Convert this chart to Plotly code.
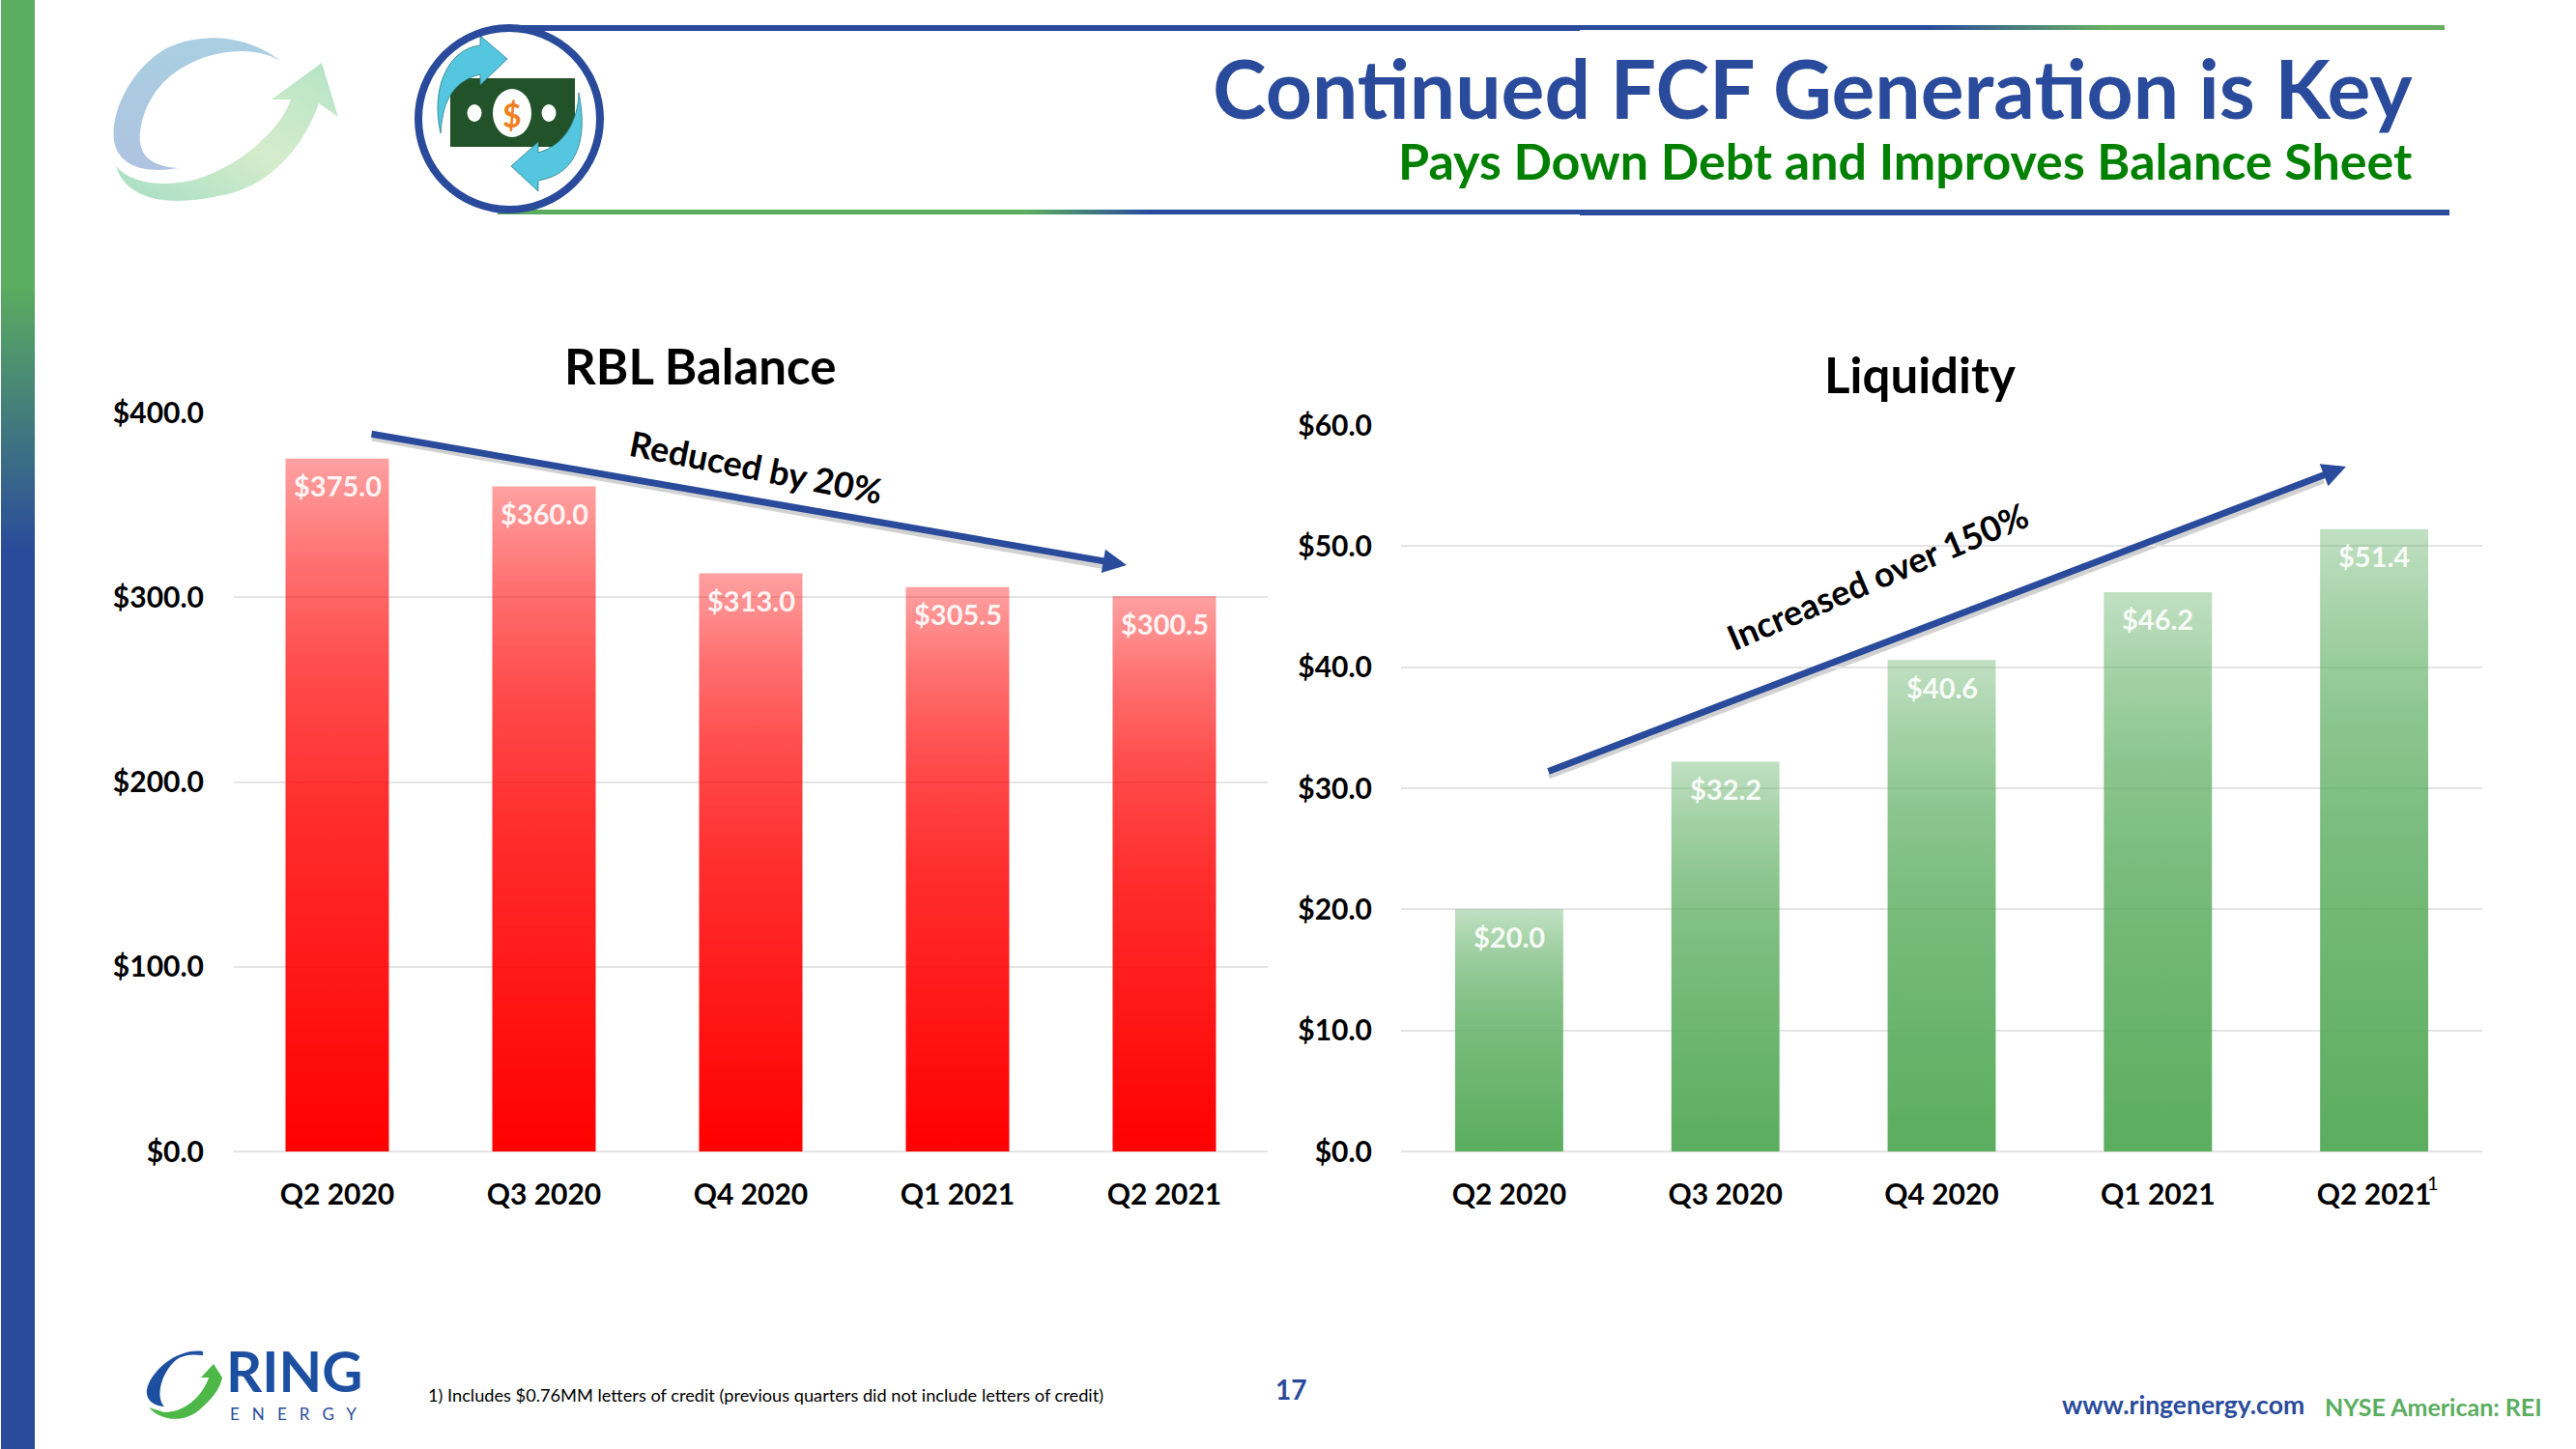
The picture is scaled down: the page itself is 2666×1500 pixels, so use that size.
import base64
import plotly.graph_objects as go

W, H = 2666, 1500
FONT = "Lato"
BLUE = "#2A4B9B"
GREEN = "#5BAD5F"

quarters_left = ["Q2 2020", "Q3 2020", "Q4 2020", "Q1 2021", "Q2 2021"]
rbl_balance = [375.0, 360.0, 313.0, 305.5, 300.5]
rbl_ticks = [0, 100, 200, 300, 400]

quarters_right = ["Q2 2020", "Q3 2020", "Q4 2020", "Q1 2021", "Q2 2021"]
liquidity = [20.0, 32.2, 40.6, 46.2, 51.4]
liquidity_ticks = [0, 10, 20, 30, 40, 50, 60]


def px(x):
    return x / W


def py(y):
    return 1 - y / H


# side bar, header rules and logo artwork, drawn once as a page backdrop
ART = f"""<svg xmlns="http://www.w3.org/2000/svg" width="{W}" height="{H}" viewBox="0 0 {W} {H}">
<defs>
<linearGradient id="side" x1="0" y1="0" x2="0" y2="{H}" gradientUnits="userSpaceOnUse">
<stop offset="{296/H}" stop-color="{GREEN}"/><stop offset="{570/H}" stop-color="{BLUE}"/></linearGradient>
<linearGradient id="top" x1="0" y1="0" x2="{W}" y2="0" gradientUnits="userSpaceOnUse">
<stop offset="{1995/W}" stop-color="{BLUE}"/><stop offset="{2182/W}" stop-color="#69AE63"/></linearGradient>
<linearGradient id="bot" x1="0" y1="0" x2="{W}" y2="0" gradientUnits="userSpaceOnUse">
<stop offset="{1064/W}" stop-color="{GREEN}"/><stop offset="{1188/W}" stop-color="{BLUE}"/></linearGradient>
<linearGradient id="cres" x1="0" y1="0" x2="0" y2="1">
<stop offset="0" stop-color="#A9CFE2"/><stop offset="1" stop-color="#AFC3E0"/></linearGradient>
<linearGradient id="swoosh" x1="0" y1="1" x2="1" y2="0">
<stop offset="0" stop-color="#A6DEC6"/><stop offset="0.5" stop-color="#D5ECCB"/><stop offset="1" stop-color="#B4E4C6"/></linearGradient>
</defs>
<rect x="1" y="0" width="35" height="{H}" fill="url(#side)"/>
<rect x="527" y="26" width="1108" height="6" fill="{BLUE}"/>
<rect x="1635" y="26" width="895" height="5" fill="url(#top)"/>
<rect x="515" y="217" width="1120" height="5" fill="url(#bot)"/>
<rect x="1635" y="217" width="900" height="6" fill="{BLUE}"/>
<path d="M290 63 C262 40 215 30 172 50 C130 75 112 125 119 150 C125 172 150 180 184 174 C155 172 140 160 146 130 C152 100 172 75 205 62 C235 50 270 50 290 63 Z" fill="url(#cres)"/>
<path d="M333 65 L350 121 L330 107 C315 150 280 195 225 203 C170 215 130 205 120 172 C135 190 170 195 205 185 C250 170 290 135 301 103 L281 103 Z" fill="url(#swoosh)"/>
<rect x="466" y="81" width="129" height="71" fill="#22522A"/>
<ellipse cx="530" cy="117" rx="20" ry="25" fill="#fff"/>
<ellipse cx="491" cy="117" rx="7.5" ry="9" fill="#fff"/>
<ellipse cx="568" cy="117" rx="7.5" ry="9" fill="#fff"/>
<path d="M525 61 L497 37 L497 47 C465 50 445 90 456 138 C458 110 465 85 497 77 L497 88 Z" fill="#55C6E0" stroke="#2F7F80" stroke-width="0.8"/>
<path d="M529 172 L557 147 L557 158 C585 150 598 125 599 96 C608 140 600 180 557 187 L557 198 Z" fill="#55C6E0" stroke="#2F7F80" stroke-width="0.8"/>
<circle cx="527" cy="123" r="94" fill="none" stroke="{BLUE}" stroke-width="8"/>
<path d="M210 1399 C190 1396 165 1410 154 1432 C148 1445 155 1455 170 1456 C160 1445 168 1420 182 1408 C190 1402 200 1402 210 1403 Z" fill="#1D4FA0"/>
<path d="M154 1457 C165 1470 190 1475 208 1458 C222 1446 228 1436 230 1426 L221 1412 L208 1426 L216 1426 C212 1440 195 1462 170 1462 Z" fill="#4DB848"/>
</svg>"""
ART_URI = "data:image/svg+xml;base64," + base64.b64encode(ART.encode()).decode()

fig = go.Figure()
fig.add_trace(go.Bar(x=quarters_left, y=rbl_balance, marker=dict(color="#FF0000", line_width=0),
                     xaxis="x", yaxis="y", hoverinfo="skip"))
fig.add_trace(go.Bar(x=quarters_right, y=liquidity, marker=dict(color=GREEN, line_width=0),
                     xaxis="x2", yaxis="y2", hoverinfo="skip"))

annotations = []


def label(x, y, text, size, color="#000000", bold=True, anchor="center", angle=0):
    annotations.append(dict(
        x=px(x), y=py(y), xref="paper", yref="paper", text=f"<b>{text}</b>" if bold else text,
        showarrow=False, xanchor=anchor, yanchor="middle", textangle=angle,
        font=dict(family=FONT, size=size, color=color)))


def arrow(x0, y0, x1, y1):
    annotations.append(dict(
        x=px(x1), y=py(y1), ax=x0 - x1, ay=y0 - y1, xref="paper", yref="paper", axref="pixel", ayref="pixel",
        text="", showarrow=True, arrowhead=2, arrowsize=0.7, arrowwidth=7, arrowcolor=BLUE, standoff=0))


def value_labels(xs, ys, xaxis, yaxis, fmt):
    for x, y in zip(xs, ys):
        annotations.append(dict(
            x=x, y=y, xref=xaxis, yref=yaxis, text=f"<b>{fmt.format(y)}</b>", showarrow=False,
            yanchor="middle", yshift=-28, font=dict(family=FONT, size=29, color="rgba(255,255,255,0.92)")))


value_labels(quarters_left, rbl_balance, "x", "y", "${:.1f}")
value_labels(quarters_right, liquidity, "x2", "y2", "${:.1f}")

label(2499, 90, "Continued FCF Generation is Key", 84, BLUE, anchor="right")
label(2499, 166, "Pays Down Debt and Improves Balance Sheet", 52, "#008000", anchor="right")
label(530, 118, "$", 34, "#F08020")
label(724, 379, "RBL Balance", 51)
label(1987, 388, "Liquidity", 51)
label(782, 483, "Reduced by 20%", 36, angle=11)
label(1943, 596, "Increased over 150%", 36, angle=-23)
label(2518, 1224, "1", 20, bold=False)
label(441, 1444, "1) Includes $0.76MM letters of credit (previous quarters did not include letters of credit)",
      18.2, anchor="left", bold=False)
label(1336, 1438, "17", 28, BLUE)
label(2132, 1454, "www.ringenergy.com", 26.5, BLUE, anchor="left")
label(2404, 1456, "NYSE American: REI", 25, GREEN, anchor="left")
label(232, 1418, "RING", 58, "#1D4FA0", anchor="left")
label(236, 1463, "E   N   E   R   G   Y", 17, "#2A4B9B", anchor="left", bold=False)

arrow(383, 449, 1166, 585)
arrow(1601, 799, 2428, 483)

# soft drop shadow under both arrows
shadow = dict(type="line", xref="paper", yref="paper", layer="below",
              line=dict(color="rgba(0,0,0,0.18)", width=5))
shapes = [
    dict(shadow, x0=px(385), y0=py(454), x1=px(1145), y1=py(587)),
    dict(shadow, x0=px(1603), y0=py(804), x1=px(2405), y1=py(498)),
]

axis_font = dict(family=FONT, size=30, color="#000000")
x_common = dict(type="category", showgrid=False, showline=False, ticks="outside", ticklen=18, automargin=False,
                tickcolor="rgba(0,0,0,0)", tickfont=axis_font, zeroline=False)
y_common = dict(showgrid=True, gridcolor="#E4E4E4", gridwidth=2, zeroline=True, zerolinecolor="#E4E4E4",
                zerolinewidth=2, showline=False, ticks="outside", automargin=False,
                tickcolor="rgba(0,0,0,0)", tickfont=axis_font)

fig.update_layout(
    width=W, height=H, margin=dict(l=0, r=0, t=0, b=0, pad=0), autosize=False,
    paper_bgcolor="#FFFFFF", plot_bgcolor="rgba(0,0,0,0)", showlegend=False, bargap=0.5,
    xaxis=dict(x_common, domain=[px(242), px(1312)], anchor="y", tickvals=quarters_left,
               ticktext=[f"<b>{q}</b>" for q in quarters_left]),
    yaxis=dict(y_common, domain=[py(1192), py(427)], anchor="x", range=[0, 400], tickvals=rbl_ticks, ticklen=24,
               ticktext=[f"<b>${t:.1f}</b>" for t in rbl_ticks]),
    xaxis2=dict(x_common, domain=[px(1450), px(2569)], anchor="y2", tickvals=quarters_right,
                ticktext=[f"<b>{q}</b>" for q in quarters_right]),
    yaxis2=dict(y_common, domain=[py(1192), py(440)], anchor="x2", range=[0, 60], tickvals=liquidity_ticks,
                ticklen=23, ticktext=[f"<b>${t:.1f}</b>" for t in liquidity_ticks]),
    annotations=annotations, shapes=shapes,
    images=[dict(source=ART_URI, xref="paper", yref="paper", x=0, y=1, sizex=1, sizey=1,
                 sizing="stretch", xanchor="left", yanchor="top", layer="below")],
)

# plotly bars only take flat fills, so the vertical fades go in after the plot is drawn
POST = """
document.body.style.margin = '0';
document.documentElement.style.overflow = 'hidden';
var gd = document.getElementById('{plot_id}');
var svg = gd.querySelector('.main-svg');
var ns = 'http://www.w3.org/2000/svg';
var defs = document.createElementNS(ns, 'defs');
[['fadeRed', '#FF0000', 0.37], ['fadeGreen', '#5BAD5F', 0.38]].forEach(function (g) {
  var lg = document.createElementNS(ns, 'linearGradient');
  lg.setAttribute('id', g[0]);
  lg.setAttribute('x1', '0'); lg.setAttribute('y1', '0');
  lg.setAttribute('x2', '0'); lg.setAttribute('y2', '1');
  [[0, g[2]], [0.15, 0.56], [0.3, 0.70], [0.5, 0.82], [1, 1]].forEach(function (s) {
    var st = document.createElementNS(ns, 'stop');
    st.setAttribute('offset', s[0]);
    st.setAttribute('stop-color', g[1]);
    st.setAttribute('stop-opacity', s[1]);
    lg.appendChild(st);
  });
  defs.appendChild(lg);
});
svg.insertBefore(defs, svg.firstChild);
gd.querySelectorAll('.barlayer .trace').forEach(function (tr, i) {
  tr.querySelectorAll('.point path').forEach(function (p) {
    p.style.fill = 'url(#' + (i === 0 ? 'fadeRed' : 'fadeGreen') + ')';
    p.style.fillOpacity = 1;
  });
});
"""

fig.write_html("out.html", post_script=POST, config={"displayModeBar": False})
